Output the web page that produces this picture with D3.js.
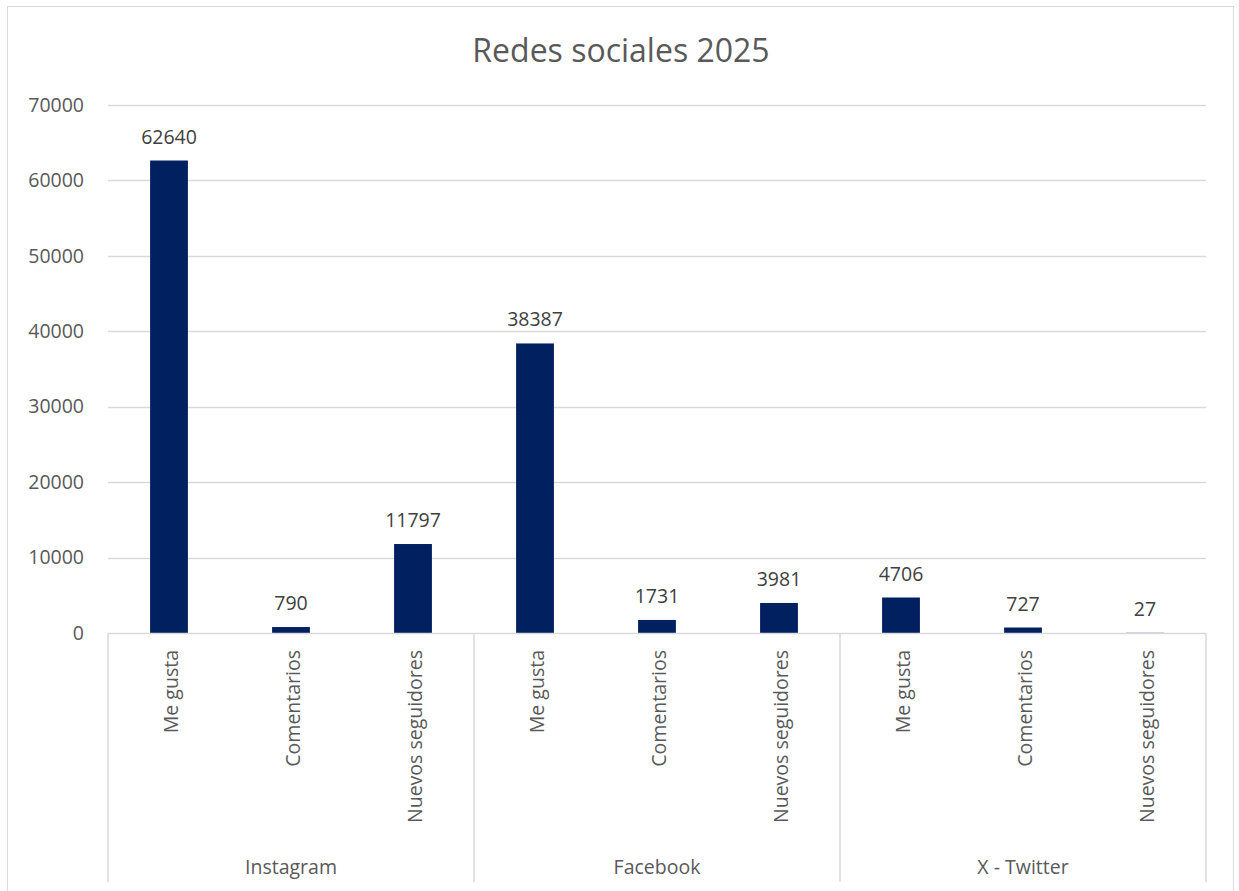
<!DOCTYPE html>
<html>
<head>
<meta charset="utf-8">
<script src="https://cdn.jsdelivr.net/npm/d3@7"></script>
<style>
  body { margin: 0; background: #fff; }
  svg { display: block; font-family: "Open Sans", "Noto Sans", sans-serif; }
</style>
</head>
<body>
<div id="chart"></div>
<script>
// data
let groups = ["Instagram", "Facebook", "X - Twitter"];
let metrics = ["Me gusta", "Comentarios", "Nuevos seguidores"];
let instagram = [62640, 790, 11797];
let facebook = [38387, 1731, 3981];
let twitter = [4706, 727, 27];
let yTicks = [0, 10000, 20000, 30000, 40000, 50000, 60000, 70000];

let width = 1239;
let height = 891;
let margin = { left: 108, right: 33, top: 105, bottom: 258 };
let fs = "19.5px";

let rows = [];
[instagram, facebook, twitter].forEach((vals, gi) => {
  vals.forEach((v, mi) => {
    rows.push({ group: groups[gi], metric: metrics[mi], key: gi + "-" + mi, value: v });
  });
});

let svg = d3.select("#chart").append("svg")
  .attr("width", width)
  .attr("height", height);

// chart border
svg.append("rect")
  .attr("x", 7.5).attr("y", 6.5)
  .attr("width", 1226).attr("height", 900)
  .attr("fill", "#fff")
  .attr("stroke", "#d9d9d9")
  .attr("stroke-width", 1);

let x = d3.scaleBand()
  .domain(rows.map(d => d.key))
  .range([margin.left, width - margin.right])
  .paddingInner(0.69)
  .paddingOuter(0.345);

let y = d3.scaleLinear()
  .domain([0, 70000])
  .range([height - margin.bottom, margin.top]);

// title
svg.append("text")
  .attr("x", 621)
  .attr("y", 62)
  .attr("text-anchor", "middle")
  .attr("font-size", "32px")
  .attr("fill", "#595959")
  .text("Redes sociales 2025");

// gridlines
svg.append("g")
  .selectAll("line")
  .data(yTicks.filter(t => t > 0))
  .enter()
  .append("line")
  .attr("x1", margin.left)
  .attr("x2", width - margin.right)
  .attr("y1", d => Math.round(y(d)) + 0.5)
  .attr("y2", d => Math.round(y(d)) + 0.5)
  .attr("stroke", "#d9d9d9")
  .attr("stroke-width", 1.5);

// y axis labels
let yAxis = svg.append("g")
  .attr("transform", `translate(${margin.left - 24},0)`)
  .call(d3.axisLeft(y).tickValues(yTicks).tickSize(0).tickPadding(0).tickFormat(d3.format("d")));
yAxis.select(".domain").remove();
yAxis.selectAll("text")
  .attr("font-family", "'Open Sans', sans-serif")
  .attr("font-size", fs)
  .attr("fill", "#595959");

// bars
svg.append("g")
  .selectAll("rect")
  .data(rows)
  .enter()
  .append("rect")
  .attr("x", d => x(d.key))
  .attr("width", x.bandwidth())
  .attr("y", d => y(d.value))
  .attr("height", d => y(0) - y(d.value))
  .attr("fill", "#002060");

// data labels
svg.append("g")
  .selectAll("text")
  .data(rows)
  .enter()
  .append("text")
  .attr("x", d => x(d.key) + x.bandwidth() / 2)
  .attr("y", d => y(d.value) - 17)
  .attr("text-anchor", "middle")
  .attr("font-size", fs)
  .attr("fill", "#404040")
  .text(d => d.value);

// category axis line
let axisY = y(0);
svg.append("line")
  .attr("x1", margin.left).attr("x2", width - margin.right)
  .attr("y1", axisY + 0.5).attr("y2", axisY + 0.5)
  .attr("stroke", "#d9d9d9").attr("stroke-width", 1.5);

// group separators
let step = x.step();
let groupEdges = d3.range(groups.length + 1).map(i => margin.left + i * step * metrics.length);
svg.append("g")
  .selectAll("line")
  .data(groupEdges)
  .enter()
  .append("line")
  .attr("x1", d => d).attr("x2", d => d)
  .attr("y1", axisY).attr("y2", 882)
  .attr("stroke", "#d9d9d9").attr("stroke-width", 1.5);

// rotated metric labels
svg.append("g")
  .selectAll("text")
  .data(rows)
  .enter()
  .append("text")
  .attr("transform", d => `translate(${x(d.key) + x.bandwidth() / 2 + 9},650) rotate(-90)`)
  .attr("text-anchor", "end")
  .attr("font-size", fs)
  .attr("fill", "#595959")
  .text(d => d.metric);

// group labels
svg.append("g")
  .selectAll("text")
  .data(groups)
  .enter()
  .append("text")
  .attr("x", (d, i) => (groupEdges[i] + groupEdges[i + 1]) / 2)
  .attr("y", 874)
  .attr("text-anchor", "middle")
  .attr("font-size", fs)
  .attr("fill", "#595959")
  .text(d => d);
</script>
</body>
</html>
